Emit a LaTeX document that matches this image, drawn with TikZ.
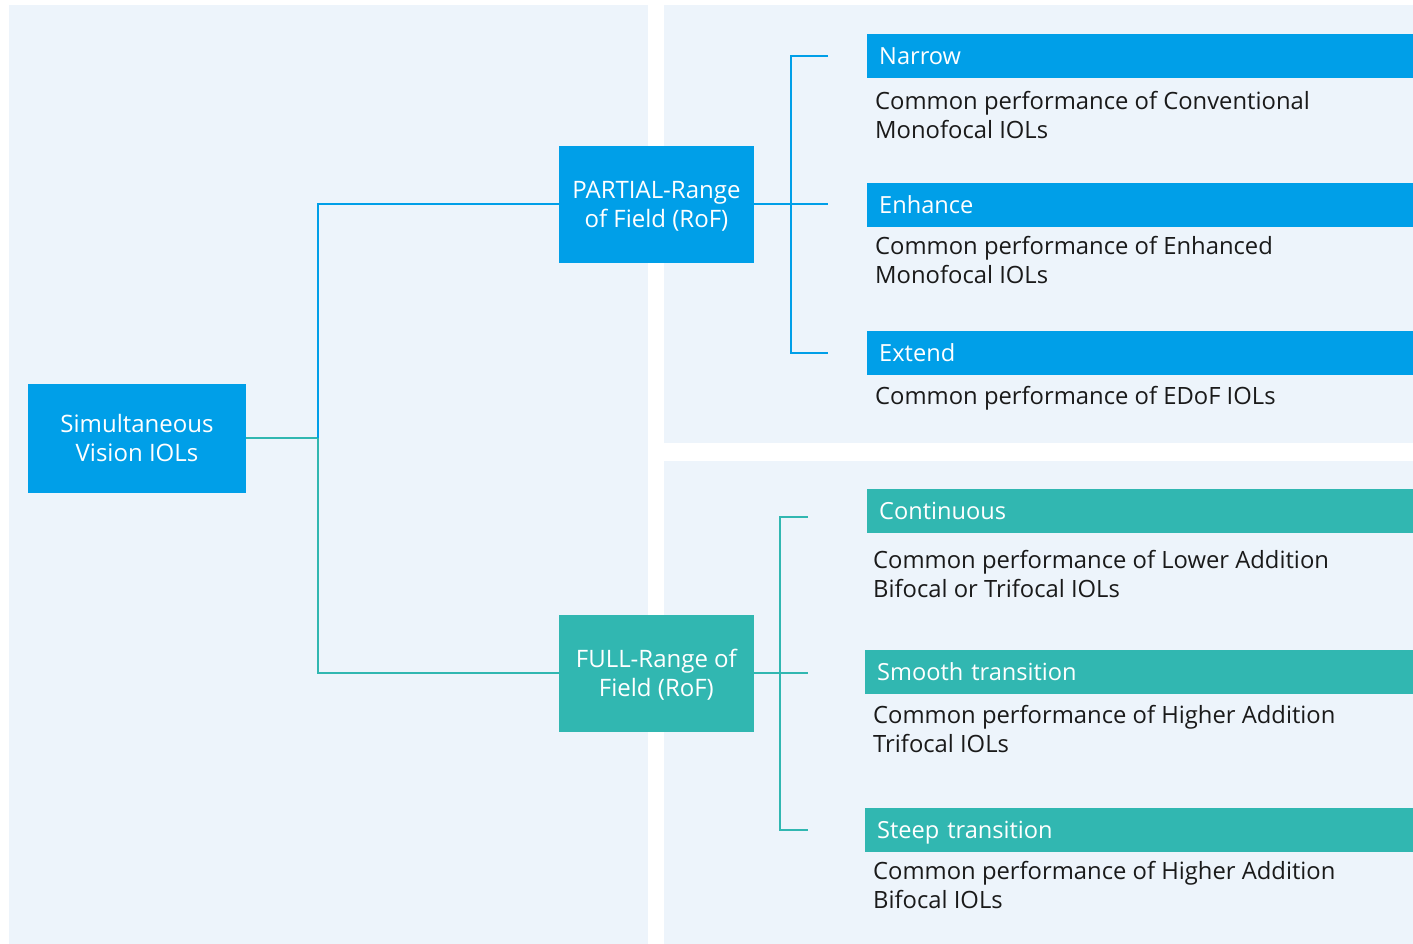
\documentclass[tikz,border=0pt]{standalone}
\usepackage{fontspec}
\setmainfont{Open Sans}
\usepackage{tikz}
\usetikzlibrary{positioning}

\definecolor{rofblue}{HTML}{009FE8}
\definecolor{rofteal}{HTML}{31B7B1}
\definecolor{panelbg}{HTML}{EDF4FB}
\definecolor{desctext}{HTML}{1A1A1A}

\begin{document}
\begin{tikzpicture}[x=1pt, y=-1pt]
        % Styles
        \tikzstyle{panel} = [fill=panelbg, draw=none]
        \tikzstyle{mainblock} = [rectangle, text=white, align=center, inner sep=0pt,
            font=\fontsize{24}{29.5}\selectfont, text height=46.5pt, text depth=0pt]
        \tikzstyle{header} = [rectangle, anchor=north west, text=white, text width=524pt,
            inner xsep=12pt, inner ysep=0pt, minimum height=43.7pt, align=left,
            font=\fontsize{23.6}{28.5}\selectfont, text height=17pt, text depth=0pt]
        \tikzstyle{desc} = [anchor=west, align=left, text=desctext, inner sep=0pt,
            font=\fontsize{23.8}{28.5}\selectfont, text height=45.5pt, text depth=0pt]
        \tikzstyle{blueline} = [draw=rofblue, line width=2pt]
        \tikzstyle{tealline} = [draw=rofteal, line width=2pt]

        % Background
        \useasboundingbox (0,0) rectangle (1413,944);
        \fill [white] (0,0) rectangle (1413,944);
        \path [panel] (9,5) rectangle (648,944);
        \path [panel] (664,5) rectangle (1413,443);
        \path [panel] (664,461) rectangle (1413,944);

        % Nodes
        \node [mainblock, fill=rofblue, minimum width=218pt, minimum height=108.7pt]
            (simiol) at (137,438.3) {Simultaneous\\Vision IOLs};
        \node [mainblock, fill=rofblue, minimum width=195pt, minimum height=116.7pt]
            (partial) at (656.4,204.3) {PARTIAL-Range\\of Field (RoF)};
        \node [mainblock, fill=rofteal, minimum width=195pt, minimum height=116.7pt]
            (full) at (656.4,673.3) {FULL-Range of\\Field (RoF)};

        \node [header, fill=rofblue] (narrow) at (867,34) {Narrow};
        \node [header, fill=rofblue] (enhance) at (867,183) {Enhance};
        \node [header, fill=rofblue] (extend) at (867,331) {Extend};
        \node [header, fill=rofteal] (continuous) at (867,489) {Continuous};
        \node [header, fill=rofteal] (smooth) at (865,650) {Smooth transition};
        \node [header, fill=rofteal] (steep) at (865,808) {Steep transition};

        \node [desc] (narrowtxt) at (875,115.5) {Common performance of Conventional\\Monofocal IOLs};
        \node [desc] (enhancetxt) at (875,260.5) {Common performance of Enhanced\\Monofocal IOLs};
        \node [desc, text height=17pt] (extendtxt) at (875,395.5) {Common performance of EDoF IOLs};
        \node [desc] (continuoustxt) at (873,574.5) {Common performance of Lower Addition\\Bifocal or Trifocal IOLs};
        \node [desc] (smoothtxt) at (873,729.5) {Common performance of Higher Addition\\Trifocal IOLs};
        \node [desc] (steeptxt) at (873,885.7) {Common performance of Higher Addition\\Bifocal IOLs};

        % Bracket ends
        \coordinate (trunk) at (318,438.3);
        \coordinate [left=39pt of narrow.west] (narrowtick);
        \coordinate [left=39pt of enhance.west] (enhancetick);
        \coordinate [left=39pt of extend.west] (extendtick);
        \coordinate (pjoin) at (790.5,204.3);
        \coordinate (continuoustick) at (808,516.7);
        \coordinate [left=57pt of smooth.west] (smoothtick);
        \coordinate [left=57pt of steep.west] (steeptick);
        \coordinate (fjoin) at (780.4,673.3);

        % Connections
        \path [tealline] (simiol.east) -- (trunk);
        \path [blueline] (trunk) |- (partial.west);
        \path [tealline] (trunk) |- (full.west);

        \path [blueline] (partial.east) -- (partial.east -| enhancetick);
        \path [blueline] (narrowtick) -| (pjoin) |- (extendtick);

        \path [tealline] (full.east) -- (full.east -| smoothtick);
        \path [tealline] (continuoustick) -| (fjoin) |- (steeptick);
\end{tikzpicture}
\end{document}
